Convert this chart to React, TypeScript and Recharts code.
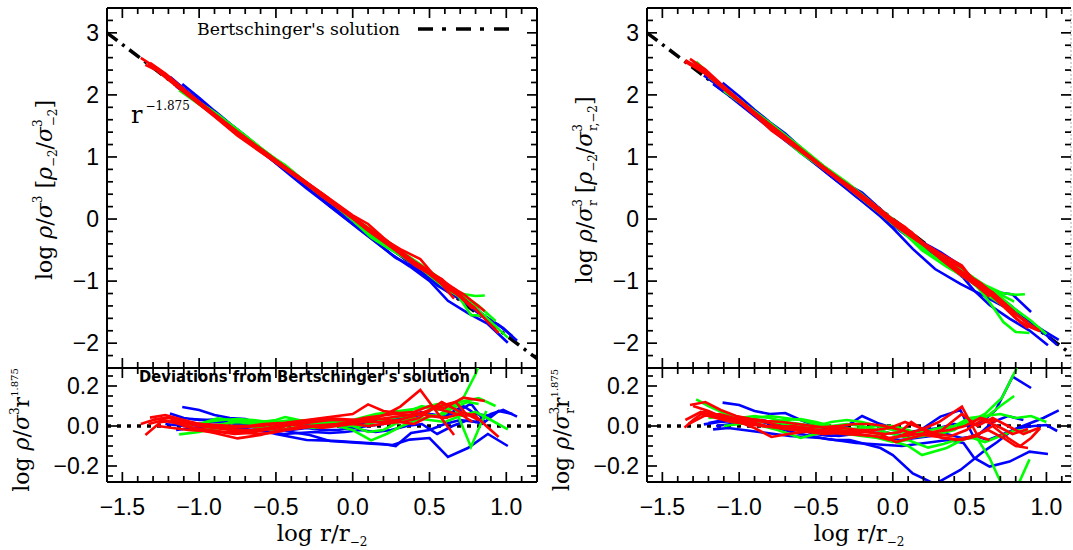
import React from 'react';
import { LineChart, Line, XAxis, YAxis, ReferenceLine } from 'recharts';

type Pt = [number, number];

// Bertschinger's similarity solution: rho/sigma^3 ∝ r^-1.875
const SLOPE = -1.875;
const bertX = [-1.6, 1.2];
const bertY = [3.0, -2.25];
const zeroX = [-1.6, 1.2];
const zeroY = [0, 0];

// ---- Left panels (rho / sigma^3): [log r/r-2, deviation from r^-1.875] ----
const lBlue1: Pt[] = [[-1.11,0.095],[-1.0,0.08],[-0.9,0.055],[-0.8,0.04],[-0.7,0.035],[-0.6,0.01],[-0.5,-0.01],[-0.4,-0.03],[-0.28,-0.045],[-0.15,-0.075],[-0.05,-0.08],[0.05,-0.085],[0.15,-0.09],[0.26,-0.095],[0.37,-0.068],[0.5,-0.06],[0.62,-0.155],[0.75,-0.11],[0.88,-0.04],[1.01,-0.1]];
const lBlue2: Pt[] = [[-1.19,0.063],[-1.1,0.04],[-1.0,0.03],[-0.9,0.03],[-0.8,0.025],[-0.7,0.01],[-0.6,-0.02],[-0.5,-0.04],[-0.4,-0.055],[-0.3,-0.07],[-0.2,-0.072],[-0.1,-0.075],[0.0,-0.08],[0.1,-0.085],[0.2,-0.09],[0.28,-0.1],[0.38,-0.035],[0.5,-0.02],[0.6,0.01],[0.7,0.03],[0.8,0.02],[0.9,0.06],[0.98,0.08],[1.07,0.047]];
const lBlue3: Pt[] = [[-1.22,0.01],[-1.1,0.0],[-1.0,0.01],[-0.9,0.02],[-0.8,0.015],[-0.7,0.0],[-0.6,-0.01],[-0.5,-0.02],[-0.4,-0.02],[-0.3,-0.01],[-0.2,-0.02],[-0.1,-0.02],[0.0,-0.01],[0.1,0.0],[0.2,0.01],[0.3,0.04],[0.4,0.05],[0.5,0.06],[0.6,0.05],[0.68,0.07],[0.77,0.113],[0.86,0.02],[0.95,0.075],[1.04,0.06]];
const lBlue4: Pt[] = [[-1.15,-0.02],[-1.05,-0.01],[-0.95,0.0],[-0.85,0.0],[-0.75,-0.01],[-0.65,-0.02],[-0.55,-0.03],[-0.45,-0.04],[-0.35,-0.035],[-0.25,-0.03],[-0.15,-0.035],[-0.05,-0.03],[0.05,-0.02],[0.15,-0.03],[0.25,-0.02],[0.35,0.0],[0.45,0.01],[0.55,-0.04],[0.65,0.0],[0.75,0.03],[0.85,0.01]];
const lBlue5: Pt[] = [[-1.05,0.035],[-0.95,0.03],[-0.85,0.035],[-0.75,0.03],[-0.65,0.01],[-0.55,0.0],[-0.45,0.02],[-0.35,0.02],[-0.25,0.0],[-0.15,0.01],[-0.05,0.0],[0.05,0.01],[0.15,0.03],[0.25,0.02],[0.35,0.05],[0.45,0.07],[0.55,0.05],[0.65,0.07],[0.72,0.1],[0.8,0.06],[0.9,0.05]];

const lGreen1: Pt[] = [[-1.13,-0.042],[-1.0,-0.03],[-0.9,-0.01],[-0.8,0.02],[-0.7,0.02],[-0.6,0.015],[-0.5,0.02],[-0.4,0.03],[-0.3,0.02],[-0.2,0.01],[-0.1,0.0],[0.0,-0.02],[0.12,-0.072],[0.22,-0.04],[0.32,0.0],[0.42,0.03],[0.52,0.05],[0.6,0.06],[0.7,0.12],[0.82,0.14],[0.93,0.1]];
const lGreen2: Pt[] = [[-1.1,0.0],[-1.0,0.01],[-0.88,0.038],[-0.8,0.03],[-0.7,0.025],[-0.6,0.02],[-0.5,0.03],[-0.44,0.045],[-0.35,0.03],[-0.25,0.02],[-0.15,0.02],[-0.05,0.01],[0.05,0.0],[0.15,0.02],[0.25,0.04],[0.35,0.05],[0.45,0.06],[0.55,0.05],[0.63,0.09],[0.72,0.14],[0.8,0.26],[0.86,0.38]];
const lGreen3: Pt[] = [[-1.05,0.01],[-0.95,0.0],[-0.85,0.01],[-0.75,0.02],[-0.65,0.01],[-0.55,0.0],[-0.45,0.0],[-0.35,0.01],[-0.25,0.02],[-0.15,0.03],[-0.05,0.02],[0.05,0.03],[0.15,0.05],[0.25,0.06],[0.35,0.07],[0.45,0.1],[0.55,0.08],[0.66,0.1],[0.77,-0.105],[0.87,0.075]];
const lGreen4: Pt[] = [[-1.0,-0.02],[-0.9,-0.015],[-0.8,0.0],[-0.7,0.0],[-0.6,-0.01],[-0.5,-0.02],[-0.4,-0.01],[-0.3,0.0],[-0.2,0.01],[-0.1,0.005],[0.0,0.0],[0.1,-0.03],[0.2,-0.02],[0.3,0.02],[0.4,0.04],[0.5,0.03],[0.6,0.02],[0.7,0.05],[0.8,0.07],[0.9,0.03],[1.01,-0.017]];
const lGreen5: Pt[] = [[-0.95,0.02],[-0.85,0.03],[-0.75,0.035],[-0.65,0.03],[-0.55,0.02],[-0.45,0.01],[-0.35,0.0],[-0.25,-0.01],[-0.15,0.0],[-0.05,0.02],[0.05,0.04],[0.15,0.06],[0.25,0.07],[0.35,0.08],[0.45,0.09],[0.55,0.11],[0.65,0.09],[0.75,0.12],[0.82,0.11]];

const lRed1: Pt[] = [[-1.35,-0.045],[-1.25,0.02],[-1.15,0.025],[-1.05,0.01],[-0.95,0.0],[-0.85,-0.01],[-0.75,-0.02],[-0.65,-0.02],[-0.55,-0.01],[-0.45,0.0],[-0.35,0.01],[-0.25,0.02],[-0.15,0.03],[-0.05,0.03],[0.05,0.03],[0.15,0.04],[0.22,0.06],[0.31,0.097],[0.44,0.18],[0.52,0.097],[0.66,-0.045]];
const lRed2: Pt[] = [[-1.32,0.042],[-1.22,0.055],[-1.1,0.03],[-1.0,0.01],[-0.9,0.0],[-0.8,-0.01],[-0.7,-0.005],[-0.6,0.0],[-0.5,0.01],[-0.4,0.02],[-0.3,0.03],[-0.2,0.04],[-0.1,0.05],[0.0,0.06],[0.1,0.108],[0.2,0.075],[0.3,0.065],[0.4,0.07],[0.5,0.1],[0.6,0.09],[0.72,0.142],[0.86,0.125]];
const lRed3: Pt[] = [[-1.3,0.03],[-1.2,0.045],[-1.1,0.0],[-1.0,-0.02],[-0.9,-0.035],[-0.75,-0.062],[-0.6,-0.045],[-0.5,-0.025],[-0.4,-0.01],[-0.3,0.0],[-0.2,0.005],[-0.1,0.01],[0.0,0.015],[0.1,0.02],[0.2,0.02],[0.3,0.03],[0.4,0.05],[0.5,0.08],[0.58,0.12],[0.7,0.07],[0.8,0.05],[0.87,0.0],[0.95,-0.055]];
const lRed4: Pt[] = [[-1.27,0.0],[-1.17,-0.01],[-1.07,-0.02],[-0.97,-0.025],[-0.87,-0.03],[-0.77,-0.04],[-0.67,-0.035],[-0.57,-0.02],[-0.47,-0.01],[-0.37,0.02],[-0.27,0.03],[-0.17,0.04],[-0.07,0.035],[0.03,0.03],[0.13,0.04],[0.23,0.03],[0.33,0.02],[0.43,0.04],[0.53,0.09],[0.63,0.07],[0.73,0.05],[0.8,0.06]];
const lRed5: Pt[] = [[-1.2,0.02],[-1.1,0.015],[-1.0,0.0],[-0.9,-0.01],[-0.8,-0.02],[-0.7,-0.03],[-0.6,-0.02],[-0.5,0.0],[-0.4,0.01],[-0.3,0.0],[-0.2,-0.01],[-0.1,0.0],[0.0,0.01],[0.1,0.0],[0.2,0.01],[0.3,0.02],[0.4,0.01],[0.5,0.05],[0.6,0.04],[0.7,0.06],[0.78,0.02]];
const lRed6: Pt[] = [[-1.33,0.01],[-1.23,0.03],[-1.13,0.01],[-1.03,-0.01],[-0.93,-0.02],[-0.83,-0.03],[-0.73,-0.03],[-0.63,-0.04],[-0.53,-0.035],[-0.43,-0.02],[-0.33,-0.01],[-0.23,0.0],[-0.13,0.005],[-0.03,0.02],[0.07,0.04],[0.17,0.05],[0.27,0.06],[0.37,0.055],[0.47,0.07],[0.57,0.1],[0.67,0.12],[0.74,0.06],[0.82,0.03]];
const lRed7: Pt[] = [[-1.38,0.01],[-1.28,0.035],[-1.18,0.04],[-1.08,0.02],[-0.98,0.01],[-0.88,0.005],[-0.78,0.0],[-0.68,0.0],[-0.58,0.01],[-0.48,0.015],[-0.38,0.01],[-0.28,0.02],[-0.18,0.03],[-0.08,0.03],[0.02,0.025],[0.12,0.03],[0.22,0.04],[0.32,0.05],[0.42,0.06],[0.52,0.05],[0.62,0.04]];

// ---- Right panels (rho / sigma_r^3) ----
const rBlue1: Pt[] = [[-1.17,-0.017],[-1.07,-0.01],[-0.97,-0.02],[-0.87,-0.03],[-0.77,-0.04],[-0.67,-0.05],[-0.57,-0.055],[-0.47,-0.06],[-0.37,-0.07],[-0.28,-0.07],[-0.18,-0.09],[-0.08,-0.11],[0.0,-0.145],[0.13,-0.237],[0.275,-0.29],[0.44,-0.22],[0.59,-0.128],[0.68,-0.08],[0.78,-0.02],[0.88,0.01],[0.98,0.04],[1.08,0.078]];
const rBlue2: Pt[] = [[-1.23,0.008],[-1.13,0.02],[-1.03,0.025],[-0.93,0.015],[-0.83,0.0],[-0.73,-0.015],[-0.63,-0.035],[-0.53,-0.05],[-0.43,-0.065],[-0.33,-0.075],[-0.24,-0.085],[-0.14,-0.09],[-0.04,-0.095],[0.06,-0.1],[0.16,-0.09],[0.26,-0.08],[0.36,-0.07],[0.46,-0.085],[0.53,-0.16],[0.63,-0.203],[0.76,-0.178],[0.89,-0.128],[1.01,-0.14]];
const rBlue3: Pt[] = [[-1.108,0.117],[-1.0,0.105],[-0.9,0.075],[-0.8,0.06],[-0.7,0.065],[-0.6,0.03],[-0.5,0.0],[-0.4,-0.02],[-0.3,0.0],[-0.2,0.05],[-0.1,0.015],[0.0,-0.01],[0.1,-0.03],[0.2,-0.02],[0.3,-0.01],[0.4,0.01],[0.5,0.0],[0.58,0.02],[0.67,0.08],[0.78,0.247],[0.9,0.19]];
const rBlue4: Pt[] = [[-1.2,0.015],[-1.1,0.03],[-1.0,0.04],[-0.9,0.03],[-0.8,0.01],[-0.7,-0.01],[-0.6,-0.02],[-0.5,-0.04],[-0.4,-0.05],[-0.3,-0.04],[-0.2,-0.03],[-0.1,-0.02],[0.0,-0.04],[0.1,-0.05],[0.2,-0.01],[0.31,0.047],[0.44,0.08],[0.52,-0.045],[0.62,-0.07],[0.72,-0.04],[0.82,-0.01],[0.92,0.0],[1.0,0.005],[1.07,-0.025]];
const rBlue5: Pt[] = [[-1.15,0.0],[-1.05,0.01],[-0.95,0.02],[-0.85,0.03],[-0.75,0.01],[-0.65,0.0],[-0.55,-0.03],[-0.45,-0.045],[-0.35,-0.05],[-0.25,-0.04],[-0.15,-0.05],[-0.05,-0.06],[0.05,-0.07],[0.15,-0.06],[0.25,-0.05],[0.35,-0.04],[0.45,-0.06],[0.55,-0.05],[0.65,0.02],[0.75,0.05],[0.85,0.03]];

const rGreen1: Pt[] = [[-1.28,0.133],[-1.2,0.1],[-1.1,0.065],[-1.0,0.045],[-0.9,0.03],[-0.8,0.02],[-0.7,0.03],[-0.6,0.035],[-0.5,0.02],[-0.4,0.0],[-0.3,-0.01],[-0.2,-0.02],[-0.1,-0.04],[0.0,-0.075],[0.1,-0.1],[0.19,-0.145],[0.35,-0.11],[0.45,-0.07],[0.54,-0.05],[0.63,-0.16],[0.72,-0.31],[0.8,-0.32],[0.89,-0.167]];
const rGreen2: Pt[] = [[-1.2,0.04],[-1.1,0.05],[-1.0,0.04],[-0.9,0.05],[-0.8,0.04],[-0.7,0.02],[-0.6,0.01],[-0.5,0.0],[-0.4,0.02],[-0.3,0.03],[-0.2,0.02],[-0.1,0.0],[0.0,-0.02],[0.1,-0.04],[0.2,-0.03],[0.3,-0.01],[0.4,0.0],[0.5,0.02],[0.6,0.06],[0.71,0.14],[0.8,0.28],[0.86,0.4]];
const rGreen3: Pt[] = [[-1.1,0.0],[-1.0,0.01],[-0.9,0.02],[-0.8,0.02],[-0.7,0.01],[-0.6,0.0],[-0.5,-0.01],[-0.4,0.0],[-0.3,0.01],[-0.2,0.0],[-0.1,-0.02],[0.0,-0.04],[0.1,-0.06],[0.2,-0.05],[0.3,-0.03],[0.4,0.0],[0.5,0.04],[0.6,0.05],[0.7,0.06],[0.8,0.04],[0.9,0.05],[1.0,0.02]];
const rGreen4: Pt[] = [[-1.05,0.03],[-0.95,0.02],[-0.85,0.0],[-0.75,-0.02],[-0.6,-0.06],[-0.5,-0.04],[-0.4,-0.03],[-0.3,-0.04],[-0.2,-0.05],[-0.1,-0.06],[0.0,-0.08],[0.1,-0.07],[0.23,-0.108],[0.33,-0.09],[0.42,-0.067],[0.52,-0.06],[0.6,-0.08],[0.7,-0.05],[0.8,-0.02],[0.9,-0.03]];
const rGreen5: Pt[] = [[-1.0,0.02],[-0.9,0.04],[-0.8,0.05],[-0.7,0.04],[-0.6,0.03],[-0.5,0.01],[-0.4,-0.01],[-0.3,-0.02],[-0.2,-0.01],[-0.1,0.0],[0.0,0.0],[0.1,-0.02],[0.2,-0.05],[0.3,-0.04],[0.4,-0.02],[0.5,0.03],[0.6,0.04],[0.7,0.1],[0.79,0.15]];

const rRed1: Pt[] = [[-1.356,-0.008],[-1.3,0.03],[-1.22,0.075],[-1.12,0.05],[-1.02,0.03],[-0.92,0.02],[-0.82,0.0],[-0.72,-0.01],[-0.62,-0.02],[-0.52,-0.025],[-0.42,-0.03],[-0.32,-0.04],[-0.22,-0.045],[-0.12,-0.05],[-0.02,-0.07],[0.08,-0.04],[0.18,-0.02],[0.3,0.02],[0.45,0.097],[0.55,-0.045],[0.65,0.0],[0.75,-0.06],[0.83,-0.1],[0.9,-0.06],[0.96,-0.01]];
const rRed2: Pt[] = [[-1.32,0.105],[-1.22,0.12],[-1.12,0.08],[-1.02,0.05],[-0.92,0.035],[-0.82,0.025],[-0.72,0.02],[-0.62,0.01],[-0.52,0.0],[-0.42,-0.01],[-0.32,-0.01],[-0.22,-0.02],[-0.12,-0.02],[-0.02,-0.01],[0.08,0.02],[0.18,-0.01],[0.28,-0.04],[0.38,-0.05],[0.48,-0.02],[0.58,0.03],[0.68,0.0],[0.78,-0.04],[0.88,-0.015]];
const rRed3: Pt[] = [[-1.35,0.03],[-1.25,0.07],[-1.15,0.05],[-1.05,0.03],[-0.95,0.02],[-0.85,0.0],[-0.75,-0.01],[-0.65,-0.02],[-0.55,-0.03],[-0.45,-0.04],[-0.35,-0.035],[-0.25,-0.03],[-0.15,-0.03],[-0.05,-0.04],[0.05,-0.03],[0.12,0.02],[0.22,-0.03],[0.32,-0.06],[0.42,-0.07],[0.52,-0.05],[0.62,-0.02],[0.72,-0.06],[0.8,-0.1],[0.88,-0.11]];
const rRed4: Pt[] = [[-1.3,0.1],[-1.2,0.075],[-1.1,0.04],[-1.0,0.02],[-0.9,-0.01],[-0.79,-0.055],[-0.68,-0.04],[-0.58,-0.03],[-0.48,-0.02],[-0.38,-0.02],[-0.28,-0.025],[-0.18,-0.03],[-0.08,-0.04],[0.02,-0.08],[0.12,-0.06],[0.22,-0.04],[0.32,-0.02],[0.4,0.03],[0.45,0.06],[0.55,0.0],[0.65,0.04],[0.75,0.0],[0.85,-0.04],[0.95,-0.01]];
const rRed5: Pt[] = [[-1.25,0.06],[-1.15,0.04],[-1.05,0.02],[-0.95,0.01],[-0.85,0.0],[-0.75,-0.005],[-0.65,0.0],[-0.55,-0.01],[-0.45,-0.005],[-0.35,0.0],[-0.25,0.01],[-0.15,0.01],[-0.05,0.0],[0.05,-0.02],[0.15,-0.04],[0.25,-0.05],[0.35,-0.06],[0.45,-0.07],[0.55,-0.05],[0.63,-0.07]];
const rRed6: Pt[] = [[-1.33,0.01],[-1.23,0.05],[-1.13,0.06],[-1.03,0.04],[-0.93,0.03],[-0.83,0.02],[-0.73,0.0],[-0.63,-0.01],[-0.53,-0.02],[-0.43,-0.03],[-0.33,-0.03],[-0.23,-0.04],[-0.13,-0.05],[-0.03,-0.06],[0.07,-0.05],[0.17,-0.04],[0.27,-0.03],[0.37,-0.02],[0.47,0.0],[0.57,0.04],[0.67,0.02]];

// ---- Axes ----
const xTicks = [-1.5,-1.4,-1.3,-1.2,-1.1,-1.0,-0.9,-0.8,-0.7,-0.6,-0.5,-0.4,-0.3,-0.2,-0.1,0,0.1,0.2,0.3,0.4,0.5,0.6,0.7,0.8,0.9,1.0,1.1];
const xMajor = [-1.5,-1.0,-0.5,0,0.5,1.0];
const xLabels = ['\u22121.5','\u22121.0','\u22120.5','0.0','0.5','1.0'];
const topYTicks = [-2.2,-2.0,-1.8,-1.6,-1.4,-1.2,-1.0,-0.8,-0.6,-0.4,-0.2,0,0.2,0.4,0.6,0.8,1.0,1.2,1.4,1.6,1.8,2.0,2.2,2.4,2.6,2.8,3.0,3.2];
const topYMajor = [-2,-1,0,1,2,3];
const topYLabels = ['\u22122','\u22121','0','1','2','3'];
const botYTicks = [-0.25,-0.2,-0.15,-0.1,-0.05,0,0.05,0.1,0.15,0.2,0.25];
const botYMajor = [-0.2,0,0.2];
const botYLabels = ['\u22120.2','0.0','0.2'];

const BLUE = '#0000ff';
const GREEN = '#00ff00';
const RED = '#ff0000';

const leftSets: [string, Pt[]][] = [
  [BLUE, lBlue1],[BLUE, lBlue2],[BLUE, lBlue3],[BLUE, lBlue4],[BLUE, lBlue5],
  [GREEN, lGreen1],[GREEN, lGreen2],[GREEN, lGreen3],[GREEN, lGreen4],[GREEN, lGreen5],
  [RED, lRed1],[RED, lRed2],[RED, lRed3],[RED, lRed4],[RED, lRed5],[RED, lRed6],[RED, lRed7],
];
const rightSets: [string, Pt[]][] = [
  [BLUE, rBlue1],[BLUE, rBlue2],[BLUE, rBlue3],[BLUE, rBlue4],[BLUE, rBlue5],
  [GREEN, rGreen1],[GREEN, rGreen2],[GREEN, rGreen3],[GREEN, rGreen4],[GREEN, rGreen5],
  [RED, rRed1],[RED, rRed2],[RED, rRed3],[RED, rRed4],[RED, rRed5],[RED, rRed6],
];

const toDev = (pts: Pt[]) => pts.map(([x, d]) => ({ x, y: d }));
const toProfile = (pts: Pt[]) => pts.map(([x, d]) => ({ x, y: d + SLOPE * x }));
const bertData = bertX.map((x, i) => ({ x, y: bertY[i] }));
const zeroData = zeroX.map((x, i) => ({ x, y: zeroY[i] }));

const TICK_FONT = 'Liberation Sans, Arial, sans-serif';
const SERIF = 'DejaVu Serif, serif';

type PanelProps = {
  left: number; top: number; width: number; height: number;
  margin: { top: number; right: number; bottom: number; left: number };
  xDomain: [number, number]; yDomain: [number, number];
  yTicks: number[]; yMajor: number[]; yLabels: string[];
  showX: boolean; kind: 'top' | 'bottom'; sets: [string, Pt[]][];
  rightFrame: 'solid' | 'faint';
};

const near = (a: number, b: number) => Math.abs(a - b) < 1e-6;

function Panel(p: PanelProps) {
  // axes take 1px each; margins below are reduced accordingly
  const plotW = p.width - p.margin.left - p.margin.right - 1;
  const plotH = p.height - p.margin.top - p.margin.bottom - 1;
  const xTick = (t: any) => {
    const v = t.payload.value;
    const mi = xMajor.findIndex((m) => near(m, v));
    const len = mi >= 0 ? 10 : 6;
    return (
      <g>
        <line x1={t.x} x2={t.x} y1={t.y} y2={t.y - len} stroke="#000" strokeWidth={1.7} />
        <line x1={t.x} x2={t.x} y1={t.y - plotH} y2={t.y - plotH + len} stroke="#000" strokeWidth={1.7} />
        {p.showX && mi >= 0 ? (
          <text x={t.x} y={t.y + 33} textAnchor="middle" fontFamily={TICK_FONT} fontSize={23} fill="#000">{xLabels[mi]}</text>
        ) : null}
      </g>
    );
  };
  const yTick = (t: any) => {
    const v = t.payload.value;
    const mi = p.yMajor.findIndex((m) => near(m, v));
    const len = mi >= 0 ? 10 : 6;
    return (
      <g>
        <line x1={t.x} x2={t.x + len} y1={t.y} y2={t.y} stroke="#000" strokeWidth={1.7} />
        <line x1={t.x + plotW} x2={t.x + plotW - len} y1={t.y} y2={t.y} stroke="#000" strokeWidth={1.7} />
        {mi >= 0 ? (
          <text x={t.x - 8} y={t.y + 8} textAnchor="end" fontFamily={TICK_FONT} fontSize={23} fill="#000">{p.yLabels[mi]}</text>
        ) : null}
      </g>
    );
  };
  return (
    <div style={{ position: 'absolute', left: p.left, top: p.top }}>
      <LineChart width={p.width} height={p.height} margin={p.margin}>
        <XAxis type="number" dataKey="x" domain={p.xDomain} allowDataOverflow ticks={xTicks} interval={0}
          tick={xTick} tickLine={false} tickSize={0} tickMargin={0} height={1}
          axisLine={{ stroke: '#000', strokeWidth: 2 }} />
        <YAxis type="number" domain={p.yDomain} allowDataOverflow ticks={p.yTicks} interval={0}
          tick={yTick} tickLine={false} tickSize={0} tickMargin={0} width={1}
          axisLine={{ stroke: '#000', strokeWidth: 2 }} />
        <ReferenceLine y={p.yDomain[1]} stroke="#000" strokeWidth={2} />
        <ReferenceLine x={p.xDomain[1]}
          stroke={p.rightFrame === 'solid' ? '#000' : '#aaa'}
          strokeWidth={p.rightFrame === 'solid' ? 2 : 1}
          strokeDasharray={p.rightFrame === 'solid' ? undefined : '2 2'} />
        {p.kind === 'top' ? (
          <Line data={bertData} dataKey="y" type="linear" stroke="#000" strokeWidth={3.5}
            strokeDasharray="13 6 3 6" dot={false} isAnimationActive={false} />
        ) : (
          <Line data={zeroData} dataKey="y" type="linear" stroke="#000" strokeWidth={3.5}
            strokeDasharray="4 6" dot={false} isAnimationActive={false} />
        )}
        {p.sets.map(([color, pts], i) => (
          <Line key={i} data={p.kind === 'top' ? toProfile(pts) : toDev(pts)} dataKey="y" type="linear"
            stroke={color} strokeWidth={2.6} dot={false} isAnimationActive={false} />
        ))}
      </LineChart>
    </div>
  );
}

const SUP = 12;

export default function App() {
  return (
    <div style={{ position: 'absolute', left: 0, top: 0, width: 1073, height: 550, overflow: 'hidden', background: '#fff' }}>
      <Panel left={0} top={0} width={540} height={372} margin={{ top: 8, right: 3, bottom: 3, left: 106 }}
        xDomain={[-1.6, 1.2]} yDomain={[-2.4, 3.4]} yTicks={topYTicks} yMajor={topYMajor} yLabels={topYLabels}
        showX={false} kind="top" sets={leftSets} rightFrame="solid" />
      <Panel left={0} top={360} width={540} height={190} margin={{ top: 8, right: 3, bottom: 67, left: 106 }}
        xDomain={[-1.6, 1.2]} yDomain={[-0.28, 0.29]} yTicks={botYTicks} yMajor={botYMajor} yLabels={botYLabels}
        showX={true} kind="bottom" sets={leftSets} rightFrame="solid" />
      <Panel left={540} top={0} width={533} height={372} margin={{ top: 8, right: 2, bottom: 3, left: 106 }}
        xDomain={[-1.6, 1.16]} yDomain={[-2.4, 3.4]} yTicks={topYTicks} yMajor={topYMajor} yLabels={topYLabels}
        showX={false} kind="top" sets={rightSets} rightFrame="faint" />
      <Panel left={540} top={360} width={533} height={190} margin={{ top: 8, right: 2, bottom: 67, left: 106 }}
        xDomain={[-1.6, 1.16]} yDomain={[-0.28, 0.29]} yTicks={botYTicks} yMajor={botYMajor} yLabels={botYLabels}
        showX={true} kind="bottom" sets={rightSets} rightFrame="faint" />

      <svg width={1073} height={550} style={{ position: 'absolute', left: 0, top: 0, pointerEvents: 'none' }}>
        <text x={197} y={35} fontFamily={SERIF} fontSize={16} textLength={203} lengthAdjust="spacingAndGlyphs" fill="#000">Bertschinger's solution</text>
        <line x1={418} y1={29} x2={512} y2={29} stroke="#000" strokeWidth={3.5} strokeDasharray="15 9 4 10" />
        <text x={131} y={123} fontFamily={SERIF} fontSize={24} fill="#000">r<tspan fontSize={12} dy={-13} dx={3}>{'\u22121.875'}</tspan></text>
        <text x={139} y={382} fontFamily="DejaVu Sans, sans-serif" fontWeight="bold" fontSize={15} textLength={331} lengthAdjust="spacingAndGlyphs" fill="#000">Deviations from Bertschinger's solution</text>

        <text x={322} y={541} textAnchor="middle" fontFamily={SERIF} fontSize={23} fill="#000">log r/r<tspan fontSize={SUP} dy={5}>{'\u22122'}</tspan></text>
        <text x={859} y={541} textAnchor="middle" fontFamily={SERIF} fontSize={23} fill="#000">log r/r<tspan fontSize={SUP} dy={5}>{'\u22122'}</tspan></text>

        <text transform="rotate(-90 52 190)" x={52} y={190} textAnchor="middle" fontFamily={SERIF} fontSize={22} fill="#000">
          <tspan>log </tspan><tspan fontStyle="italic">ρ</tspan><tspan>/</tspan><tspan fontStyle="italic">σ</tspan>
          <tspan fontSize={SUP} dy={-10}>3</tspan><tspan dy={10}>{' ['}</tspan><tspan fontStyle="italic">ρ</tspan>
          <tspan fontSize={SUP} dy={5}>{'\u22122'}</tspan><tspan dy={-5}>/</tspan><tspan fontStyle="italic">σ</tspan>
          <tspan fontSize={SUP} dy={-10}>3</tspan><tspan fontSize={SUP} dx={-7} dy={15}>{'\u22122'}</tspan><tspan dy={-5}>]</tspan>
        </text>
        <text transform="rotate(-90 29 430)" x={29} y={430} textAnchor="middle" fontFamily={SERIF} fontSize={22} fill="#000">
          <tspan>log </tspan><tspan fontStyle="italic">ρ</tspan><tspan>/</tspan><tspan fontStyle="italic">σ</tspan>
          <tspan fontSize={SUP} dy={-10}>3</tspan><tspan dy={10}>r</tspan><tspan fontSize={10} dy={-11}>1.875</tspan>
        </text>

        <text transform="rotate(-90 592 190)" x={592} y={190} textAnchor="middle" fontFamily={SERIF} fontSize={22} fill="#000">
          <tspan>log </tspan><tspan fontStyle="italic">ρ</tspan><tspan>/</tspan><tspan fontStyle="italic">σ</tspan>
          <tspan fontSize={SUP} dy={-10}>3</tspan><tspan fontSize={SUP} dx={-7} dy={15}>r</tspan><tspan dy={-5}>{' ['}</tspan><tspan fontStyle="italic">ρ</tspan>
          <tspan fontSize={SUP} dy={5}>{'\u22122'}</tspan><tspan dy={-5}>/</tspan><tspan fontStyle="italic">σ</tspan>
          <tspan fontSize={SUP} dy={-10}>3</tspan><tspan fontSize={SUP} dx={-7} dy={15}>{'r,\u22122'}</tspan><tspan dy={-5}>]</tspan>
        </text>
        <text transform="rotate(-90 569 430)" x={569} y={430} textAnchor="middle" fontFamily={SERIF} fontSize={22} fill="#000">
          <tspan>log </tspan><tspan fontStyle="italic">ρ</tspan><tspan>/</tspan><tspan fontStyle="italic">σ</tspan>
          <tspan fontSize={SUP} dy={-10}>3</tspan><tspan fontSize={SUP} dx={-7} dy={15}>r</tspan><tspan dy={-5}>r</tspan><tspan fontSize={10} dy={-11}>1.875</tspan>
        </text>
      </svg>
    </div>
  );
}
